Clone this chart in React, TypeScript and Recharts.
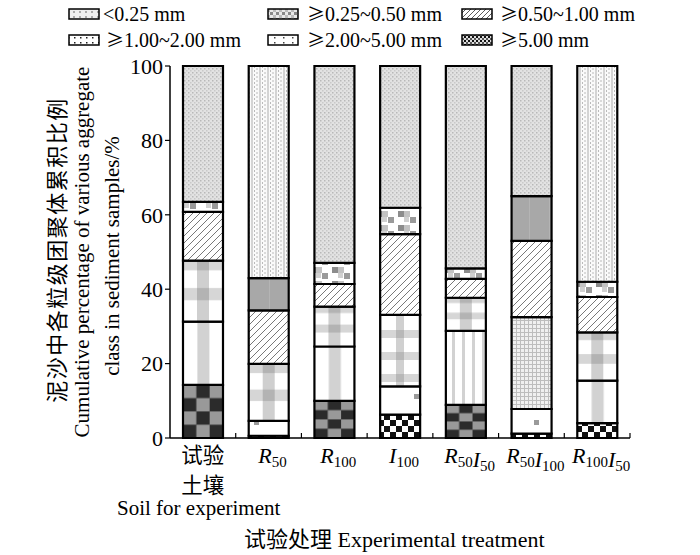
import { BarChart, Bar, XAxis, YAxis, Cell } from "recharts";

// treatments, bottom to top: coarse aggregates first
const categories = ["试验土壤", "R50", "R100", "I100", "R50I50", "R50I100", "R100I50"];
const ge500 = [14.3, 0.6, 10.0, 6.3, 8.9, 1.2, 4.0];
const ge200 = [17.0, 4.0, 14.6, 7.6, 19.9, 6.6, 11.4];
const ge100 = [16.4, 15.3, 10.7, 19.2, 8.9, 24.7, 13.0];
const ge050 = [13.1, 14.4, 6.1, 21.7, 5.1, 20.5, 9.5];
const ge025 = [2.7, 8.7, 5.7, 7.1, 2.8, 12.0, 4.1];
const lt025 = [36.5, 57.0, 52.9, 38.1, 54.4, 35.0, 58.0];
const yTicks = [0, 20, 40, 60, 80, 100];

const legendItems = [
  { sym: "", text: "<0.25 mm" },
  { sym: "≥", text: "0.25~0.50 mm" },
  { sym: "≥", text: "0.50~1.00 mm" },
  { sym: "≥", text: "1.00~2.00 mm" },
  { sym: "≥", text: "2.00~5.00 mm" },
  { sym: "≥", text: "5.00 mm" },
];

const data = categories.map((name, i) => ({
  name,
  ge500: ge500[i],
  ge200: ge200[i],
  ge100: ge100[i],
  ge050: ge050[i],
  ge025: ge025[i],
  lt025: lt025[i],
}));

// which fill each segment gets, per bar (the figure mixes textures)
const fills: Record<string, string[]> = {
  ge500: ["pCheckBig", "pCheckBW", "pCheckBig", "pCheckBW", "pCheckBig", "pCheckBW", "pCheckBW"],
  ge200: ["pVBand", "pSparse", "pVBand", "pSparse", "pVStripes", "pSparse", "pVBand"],
  ge100: ["pCross", "pCross", "pCross", "pPlaid", "pCross", "pGrid", "pCross"],
  ge050: Array(7).fill("pHatch"),
  ge025: ["pSmallCheck", "pGray", "pSmallCheck", "pSmallCheck", "pSmallCheck", "pGray", "pSmallCheck"],
  lt025: ["pFine", "pDotStripe", "pFine", "pFine", "pFine", "pFine", "pDotStripe"],
};
const seriesOrder = ["ge500", "ge200", "ge100", "ge050", "ge025", "lt025"];

const SERIF = "'Liberation Serif', 'Times New Roman', serif";
const CJK = "'Noto Sans CJK SC', sans-serif";

const PLOT_W = 460;
const BAND = PLOT_W / categories.length;

function Patterns() {
  return (
    <defs>
      <pattern id="pFine" width="4" height="4" patternUnits="userSpaceOnUse">
        <rect width="4" height="4" fill="#e2e2e2" />
        <rect x="0" y="0" width="1.5" height="1.5" fill="#b8b8b8" />
        <rect x="2" y="2" width="1.5" height="1.5" fill="#c9c9c9" />
      </pattern>
      <pattern id="pDotStripe" width="8" height="4" patternUnits="userSpaceOnUse">
        <rect width="8" height="4" fill="#fafafa" />
        <rect x="3" y="0" width="2" height="4" fill="#d4d4d4" />
        <rect x="0.5" y="0.5" width="1" height="1" fill="#7a7a7a" />
        <rect x="6" y="2.5" width="1" height="1" fill="#7a7a7a" />
      </pattern>
      <pattern id="pSmallCheck" width="22" height="14" patternUnits="userSpaceOnUse">
        <rect width="22" height="14" fill="#ffffff" />
        <rect x="2" y="1" width="6" height="6" fill="#8c8c8c" />
        <rect x="8" y="1" width="6" height="6" fill="#c2c2c2" />
        <rect x="14" y="7" width="6" height="6" fill="#9a9a9a" />
        <rect x="8" y="7" width="5" height="5" fill="#d0d0d0" />
      </pattern>
      <pattern id="pGray" width="20" height="20" patternUnits="userSpaceOnUse">
        <rect width="20" height="20" fill="#a8a8a8" />
        <rect x="9" y="0" width="1" height="20" fill="#b4b4b4" />
      </pattern>
      <pattern id="pHatch" width="7" height="7" patternUnits="userSpaceOnUse">
        <rect width="7" height="7" fill="#ffffff" />
        <path d="M0,7 L7,0 M-1,1 L1,-1 M6,8 L8,6" stroke="#555" strokeWidth="0.8" />
      </pattern>
      <pattern id="pCross" width="1" height="1" patternUnits="objectBoundingBox" patternContentUnits="objectBoundingBox">
        <rect width="1" height="1" fill="#ffffff" />
        <rect x="0" y="0" width="1" height="0.16" fill="#d6d6d6" />
        <rect x="0" y="0.45" width="1" height="0.2" fill="#d6d6d6" />
        <rect x="0.35" y="0" width="0.3" height="1" fill="#cfcfcf" />
        <rect x="0.35" y="0" width="0.3" height="0.16" fill="#b3b3b3" />
        <rect x="0.35" y="0.45" width="0.3" height="0.2" fill="#b3b3b3" />
      </pattern>
      <pattern id="pVBand" width="1" height="1" patternUnits="objectBoundingBox" patternContentUnits="objectBoundingBox">
        <rect width="1" height="1" fill="#ffffff" />
        <rect x="0.36" y="0" width="0.3" height="1" fill="#d2d2d2" />
      </pattern>
      <pattern id="pPlaid" width="22" height="22" patternUnits="userSpaceOnUse">
        <rect width="22" height="22" fill="#ffffff" />
        <rect x="0" y="0" width="22" height="8" fill="#d6d6d6" />
        <rect x="0" y="0" width="8" height="22" fill="#d0d0d0" />
        <rect x="0" y="0" width="8" height="8" fill="#b8b8b8" />
      </pattern>
      <pattern id="pVStripes" width="10" height="12" patternUnits="userSpaceOnUse">
        <rect width="10" height="12" fill="#ffffff" />
        <rect x="2" y="0" width="3" height="12" fill="#d2d2d2" />
      </pattern>
      <pattern id="pGrid" width="4" height="4" patternUnits="userSpaceOnUse">
        <rect width="4" height="4" fill="#f0f0f0" />
        <path d="M0,0.5 H4 M0.5,0 V4" stroke="#bdbdbd" strokeWidth="1" />
      </pattern>
      <pattern id="pSparse" width="40" height="26" patternUnits="userSpaceOnUse">
        <rect width="40" height="26" fill="#ffffff" />
        <rect x="14" y="4" width="5" height="5" fill="#9a9a9a" />
      </pattern>
      <pattern id="pCheckBig" width="0.6667" height="0.5" patternUnits="objectBoundingBox" patternContentUnits="objectBoundingBox">
        <rect width="0.6667" height="0.5" fill="#2b2b2b" />
        <rect x="0" y="0" width="0.3333" height="0.25" fill="#999" />
        <rect x="0.3333" y="0.25" width="0.3333" height="0.25" fill="#999" />
      </pattern>
      <pattern id="pCheckBW" width="12" height="12" patternUnits="userSpaceOnUse">
        <rect width="12" height="12" fill="#ffffff" />
        <rect x="0" y="6" width="6" height="6" fill="#111" />
        <rect x="6" y="0" width="6" height="6" fill="#111" />
      </pattern>
    </defs>
  );
}

function CatTick({ x, y, payload }: any) {
  const label: string = payload.value;
  const tick = <line x1={x + BAND / 2} x2={x + BAND / 2} y1={y} y2={y - 5} stroke="#000" strokeWidth={1.2} />;
  if (/[\u4e00-\u9fff]/.test(label)) {
    return (
      <g>
        {tick}
        <text x={x} y={y + 25} textAnchor="middle" fontSize={21.5} fontFamily={CJK} fill="#000">
          {label.slice(0, 2)}
        </text>
        <text x={x} y={y + 55} textAnchor="middle" fontSize={21.5} fontFamily={CJK} fill="#000">
          {label.slice(2)}
        </text>
      </g>
    );
  }
  const parts = label.match(/[A-Z]\d+/g) || [];
  return (
    <g>
      {tick}
      <text x={x + 4} y={y + 25} textAnchor="middle" fontFamily={SERIF} fill="#000">
        {parts.map((p, i) => (
          <tspan key={i}>
            <tspan fontSize={22} fontStyle="italic">{p[0]}</tspan>
            <tspan fontSize={15} dy={4}>{p.slice(1)}</tspan>
            <tspan fontSize={15} dy={-4}>{""}</tspan>
          </tspan>
        ))}
      </text>
    </g>
  );
}

function Legend() {
  const swatchX = [69, 268, 462];
  const textX = [103, 307, 500];
  const rows = [9, 35];
  const base = [21, 47];
  return (
    <svg width={700} height={60} style={{ position: "absolute", left: 0, top: 0 }}>
      <defs>
        <pattern id="lg0" width="6" height="5" patternUnits="userSpaceOnUse">
          <rect width="6" height="5" fill="#eee" />
          <rect x="1" y="1" width="2" height="2" fill="#aaa" />
        </pattern>
        <pattern id="lg1" width="6" height="6" patternUnits="userSpaceOnUse">
          <rect width="6" height="6" fill="#e8e8e8" />
          <rect x="0" y="0" width="3" height="3" fill="#888" />
          <rect x="3" y="3" width="3" height="3" fill="#bbb" />
        </pattern>
        <pattern id="lg2" width="5" height="5" patternUnits="userSpaceOnUse">
          <rect width="5" height="5" fill="#fff" />
          <path d="M0,5 L5,0 M-1,1 L1,-1 M4,6 L6,4" stroke="#333" strokeWidth="0.8" />
        </pattern>
        <pattern id="lg3" width="6" height="5" patternUnits="userSpaceOnUse">
          <rect width="6" height="5" fill="#fff" />
          <rect x="2" y="2" width="1.5" height="1.5" fill="#222" />
        </pattern>
        <pattern id="lg4" width="9" height="5" patternUnits="userSpaceOnUse">
          <rect width="9" height="5" fill="#fff" />
          <rect x="4" y="2" width="1.5" height="1.5" fill="#444" />
        </pattern>
        <pattern id="lg5" width="4" height="4" patternUnits="userSpaceOnUse">
          <rect width="4" height="4" fill="#ddd" />
          <rect x="0" y="0" width="2" height="2" fill="#111" />
          <rect x="2" y="2" width="2" height="2" fill="#555" />
        </pattern>
      </defs>
      {legendItems.map((item, i) => {
        const col = i % 3;
        const row = Math.floor(i / 3);
        const tx = col === 0 && item.sym ? 106 : textX[col];
        return (
          <g key={i}>
            <rect x={swatchX[col]} y={rows[row]} width={30} height={10} fill={`url(#lg${i})`} stroke="#000" strokeWidth={1.5} />
            <text x={tx} y={base[row]} fontSize={20} fontFamily={SERIF} fill="#000">
              {item.sym && <tspan fontFamily={CJK} fontSize={18}>{item.sym}</tspan>}
              {item.text}
            </text>
          </g>
        );
      })}
    </svg>
  );
}

function Titles() {
  return (
    <svg width={700} height={555} style={{ position: "absolute", left: 0, top: 0, pointerEvents: "none" }}>
      <g transform="translate(55,250) rotate(-90)">
        <text x={0} y={0} textAnchor="middle" dominantBaseline="central" fontSize={22} fontFamily={CJK} letterSpacing={1.5} fill="#000">
          泥沙中各粒级团聚体累积比例
        </text>
      </g>
      <g transform="translate(82,252) rotate(-90)">
        <text x={0} y={0} textAnchor="middle" dominantBaseline="central" fontSize={21} fontFamily={SERIF} fill="#000">
          Cumulative percentage of various aggregate
        </text>
      </g>
      <g transform="translate(112,256) rotate(-90)">
        <text x={0} y={0} textAnchor="middle" dominantBaseline="central" fontSize={21} fontFamily={SERIF} fill="#000">
          class in sediment samples/%
        </text>
      </g>
      <text x={117} y={515} fontSize={21} fontFamily={SERIF} fill="#000">
        Soil for experiment
      </text>
      <text x={244} y={547} fontSize={22} fontFamily={SERIF} fill="#000">
        <tspan fontFamily={CJK}>试验处理</tspan> Experimental treatment
      </text>
    </svg>
  );
}

export default function App() {
  return (
    <div style={{ position: "absolute", left: 0, top: 0, width: 700, height: 555, background: "#fff" }}>
      <BarChart
        width={700}
        height={555}
        data={data}
        margin={{ top: 66, right: 70, bottom: 0, left: 0 }}
        barSize={40}
      >
        <Patterns />
        <XAxis
          dataKey="name"
          interval={0}
          height={117}
          tickLine={false}
          tickSize={0}
          tickMargin={0}
          axisLine={{ stroke: "#000", strokeWidth: 1.5 }}
          tick={<CatTick />}
        />
        <YAxis
          width={170}
          domain={[0, 100]}
          ticks={yTicks}
          interval={0}
          tickSize={5}
          tickMargin={2}
          axisLine={{ stroke: "#000", strokeWidth: 1.5 }}
          tickLine={{ stroke: "#000", strokeWidth: 1.2 }}
          tick={{ fill: "#000", fontSize: 22, fontFamily: SERIF }}
        />
        {seriesOrder.map((key) => (
          <Bar key={key} dataKey={key} stackId="a" stroke="#000" strokeWidth={2.2} isAnimationActive={false}>
            {data.map((_, i) => (
              <Cell key={i} fill={`url(#${fills[key][i]})`} />
            ))}
          </Bar>
        ))}
      </BarChart>
      <Legend />
      <Titles />
    </div>
  );
}
